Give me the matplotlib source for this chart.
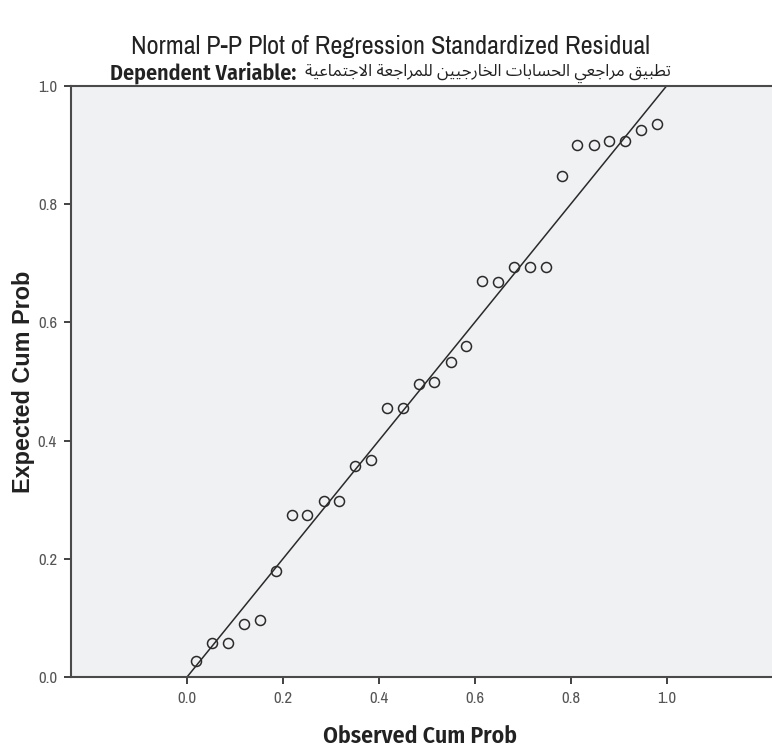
import matplotlib
matplotlib.use("Agg")
import matplotlib.pyplot as plt
from matplotlib import font_manager as fm

# ---- data ----
observed_cum_prob = [0.019, 0.053, 0.086, 0.119, 0.152, 0.186, 0.218, 0.251, 0.285, 0.317,
                     0.351, 0.383, 0.417, 0.450, 0.483, 0.516, 0.550, 0.582, 0.616, 0.649,
                     0.682, 0.715, 0.748, 0.781, 0.814, 0.848, 0.880, 0.914, 0.946, 0.980]
expected_cum_prob = [0.027, 0.058, 0.058, 0.090, 0.096, 0.179, 0.274, 0.274, 0.297, 0.297,
                     0.357, 0.367, 0.456, 0.456, 0.495, 0.499, 0.533, 0.560, 0.670, 0.669,
                     0.694, 0.693, 0.693, 0.847, 0.901, 0.900, 0.907, 0.907, 0.926, 0.935]
ref_line = [0.0, 1.0]
x_ticks = [0.0, 0.2, 0.4, 0.6, 0.8, 1.0]
y_ticks = [0.0, 0.2, 0.4, 0.6, 0.8, 1.0]
title = "Normal P-P Plot of Regression Standardized Residual"
dep_prefix = "Dependent Variable:"
dep_arabic = "تطبيق مراجعي الحسابات الخارجيين للمراجعة الاجتماعية"
x_label = "Observed Cum Prob"
y_label = "Expected Cum Prob"

# ---- minimal Arabic shaping (matplotlib has no bidi/shaping) ----
FORMS = {
    '\u0627': ('\uFE8D', '\uFE8E', None, None),
    '\u0628': ('\uFE8F', '\uFE90', '\uFE91', '\uFE92'),
    '\u0629': ('\uFE93', '\uFE94', None, None),
    '\u062A': ('\uFE95', '\uFE96', '\uFE97', '\uFE98'),
    '\u062C': ('\uFE9D', '\uFE9E', '\uFE9F', '\uFEA0'),
    '\u062D': ('\uFEA1', '\uFEA2', '\uFEA3', '\uFEA4'),
    '\u062E': ('\uFEA5', '\uFEA6', '\uFEA7', '\uFEA8'),
    '\u0631': ('\uFEAD', '\uFEAE', None, None),
    '\u0633': ('\uFEB1', '\uFEB2', '\uFEB3', '\uFEB4'),
    '\u0637': ('\uFEC1', '\uFEC2', '\uFEC3', '\uFEC4'),
    '\u0639': ('\uFEC9', '\uFECA', '\uFECB', '\uFECC'),
    '\u0642': ('\uFED5', '\uFED6', '\uFED7', '\uFED8'),
    '\u0644': ('\uFEDD', '\uFEDE', '\uFEDF', '\uFEE0'),
    '\u0645': ('\uFEE1', '\uFEE2', '\uFEE3', '\uFEE4'),
    '\u0646': ('\uFEE5', '\uFEE6', '\uFEE7', '\uFEE8'),
    '\u064A': ('\uFEF1', '\uFEF2', '\uFEF3', '\uFEF4'),
}
LAMALEF = ('\uFEFB', '\uFEFC')


def shape_arabic(s):
    toks = []
    i = 0
    while i < len(s):
        if s[i] == '\u0644' and i + 1 < len(s) and s[i + 1] == '\u0627':
            toks.append('LA')
            i += 2
        else:
            toks.append(s[i])
            i += 1

    def dual(t):
        return t in FORMS and FORMS[t][2] is not None

    def letter(t):
        return t == 'LA' or t in FORMS

    out = []
    for k, t in enumerate(toks):
        prev = toks[k - 1] if k > 0 else None
        nxt = toks[k + 1] if k + 1 < len(toks) else None
        jp = prev is not None and dual(prev) and letter(t)
        jn = dual(t) and nxt is not None and letter(nxt)
        if t == 'LA':
            out.append(LAMALEF[1] if jp else LAMALEF[0])
        elif t in FORMS:
            f = FORMS[t]
            if jp and jn:
                out.append(f[3])
            elif jp:
                out.append(f[1])
            elif jn:
                out.append(f[2])
            else:
                out.append(f[0])
        else:
            out.append(t)
    return ''.join(out)[::-1]


names = {f.name for f in fm.fontManager.ttflist}


def pick(*cands):
    for c in cands:
        if c in names:
            return c
    return 'DejaVu Sans'


narrow = pick('Archivo Narrow', 'Liberation Sans Narrow', 'Fira Sans Condensed', 'Liberation Sans')
narrow_bold = pick('Fira Sans Condensed', 'IBM Plex Sans Condensed', 'Encode Sans Condensed', 'Liberation Sans')
arabic_font = pick('Noto Sans Arabic', 'Noto Sans Arabic UI', 'IBM Plex Sans Arabic', 'Cairo',
                   'Tajawal', 'Noto Kufi Arabic', 'DejaVu Sans')
plt.rcParams['font.family'] = [narrow, 'DejaVu Sans']

W, H = 772, 749
fig = plt.figure(figsize=(W / 100, H / 100), dpi=100)
ax = fig.add_axes([71 / W, 1 - 677 / H, 1 - 71 / W, (677 - 86) / H])
ax.set_facecolor('#F0F1F3')

ax.plot(ref_line, ref_line, color='#2a2a2a', lw=1.1, zorder=2)
ax.plot(observed_cum_prob, expected_cum_prob, linestyle='none', marker='o',
        markersize=7.2, markerfacecolor='none', markeredgecolor='#2a2a2a',
        markeredgewidth=1.1, zorder=3)

ax.set_xlim(-0.242, 1.22)
ax.set_ylim(0.0, 1.0)
ax.set_xticks(x_ticks)
ax.set_yticks(y_ticks)
ax.set_xticklabels([f"{v:.1f}" for v in x_ticks])
ax.set_yticklabels([f"{v:.1f}" for v in y_ticks])
ax.tick_params(direction='out', length=5, width=1.3, colors='#333333',
               labelsize=12, labelcolor='#555555', pad=5)

for side in ['left', 'bottom', 'top']:
    ax.spines[side].set_color('#4a4a4a')
    ax.spines[side].set_linewidth(1.5)
ax.spines['right'].set_visible(False)

xl = ax.set_xlabel(x_label, fontsize=15, fontweight='semibold', color='#222222',
                   family=[narrow_bold, 'DejaVu Sans'], va='center')
ax.xaxis.set_label_coords(0.498, (677 - 736) / 591)
yl = ax.set_ylabel(y_label, fontsize=14, fontweight='bold', color='#222222',
                   family=['Liberation Sans', 'DejaVu Sans'], va='center')
ax.yaxis.set_label_coords((24 - 71) / 700, (677 - 381.5) / 591)

t_title = fig.text(390 / W, 1 - 47 / H, title, ha='center', va='center',
                   fontsize=16, color='#222222')
t_lat = fig.text(110 / W, 1 - 73 / H, dep_prefix, ha='left', va='center',
                 fontsize=15, fontweight='semibold', color='#222222',
                 family=[narrow_bold, 'DejaVu Sans'])
t_ar = fig.text(671 / W, 1 - 73 / H, shape_arabic(dep_arabic), ha='right', va='center',
                fontsize=12, fontweight='bold', color='#222222',
                family=[arabic_font, 'DejaVu Sans'], fontstretch='condensed')

# fit text sizes to the reference's measured extents (pixels)
renderer = fig.canvas.get_renderer()


def fit(t, target, vertical=False):
    bb = t.get_window_extent(renderer)
    cur = bb.height if vertical else bb.width
    if cur > 0:
        t.set_fontsize(t.get_fontsize() * target / cur)


fit(t_title, 519)
fit(t_lat, 187)
fit(t_ar, 366)
fit(xl, 195)
fit(yl, 222, vertical=True)

fig.savefig('out.png', dpi=100, facecolor='white')
